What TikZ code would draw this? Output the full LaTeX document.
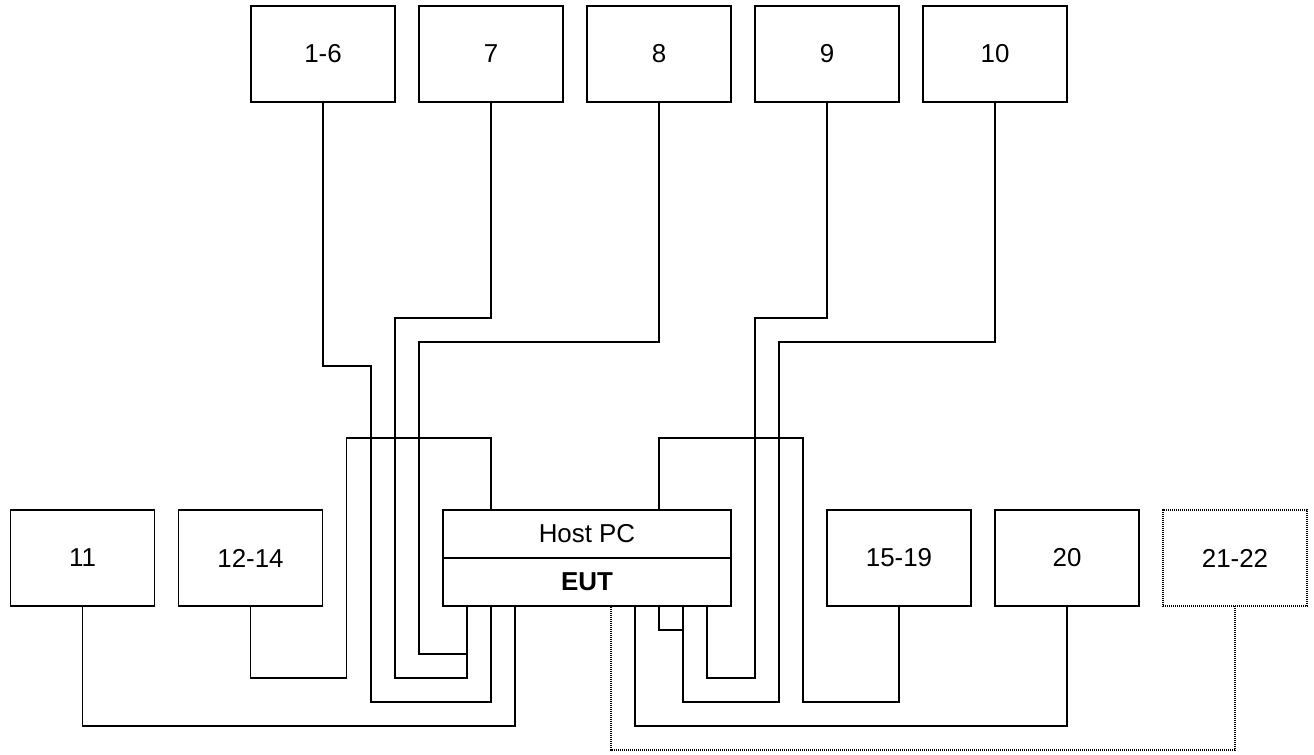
\documentclass[tikz,border=0pt]{standalone}
\usepackage{fontspec}
\setmainfont{Liberation Sans}
\usetikzlibrary{positioning}

\begin{document}
\begin{tikzpicture}[x=0.5bp, y=-0.5bp, node distance=12bp,
  every node/.style={font=\fontsize{13}{15}\selectfont},
  unit/.style={draw,line width=0.6pt,inner sep=0pt,outer sep=0pt,
               minimum width=72bp,minimum height=48bp},
  optunit/.style={unit,dash pattern=on 0.5bp off 0.5bp},
  half/.style={draw,line width=0.6pt,inner sep=0pt,outer sep=0pt,
               minimum width=144bp,minimum height=24bp},
  cable/.style={line width=0.6pt},
  optcable/.style={cable,dash pattern=on 0.5bp off 0.5bp}]

\useasboundingbox (0,0) rectangle (1314,754);

% peripherals above
\node[unit] (d16) at (323,54) {1-6};
\node[unit,right=of d16] (d7) {7};
\node[unit,right=of d7] (d8) {8};
\node[unit,right=of d8] (d9) {9};
\node[unit,right=of d9] (d10) {10};

% host and EUT
\node[half] (host) at (587,534) {Host PC};
\node[half,below=0pt of host] (eut) {\textbf{EUT}};

% peripherals below
\node[unit] (d11) at (82.5,558) {11};
\node[unit,right=of d11] (d1214) {12-14};
\node[unit,right=48bp of eut.south east,anchor=south west] (d1519) {15-19};
\node[unit,right=of d1519] (d20) {20};
\node[optunit,right=of d20] (d2122) {21-22};

% ports
\foreach \i in {1,...,11}
  \coordinate (e\i) at ([xshift=\i*12bp]eut.south west);
\foreach \i in {2,9}
  \coordinate (h\i) at ([xshift=\i*12bp]host.north west);

\draw[cable] (d16.south) -- ++(0,264) -- ++(48,0) -- ++(0,336) -| (e2);
\draw[cable] (d7.south) -- ++(0,216) -- ++(-96,0) -- ++(0,360) -| (e1);
\draw[cable] (d8.south) -- ++(0,240) -- ++(-240,0) -- ++(0,312) -| (e1);
\draw[cable] (d9.south) -- ++(0,216) -- ++(-72,0) -- ++(0,360) -| (e11);
\draw[cable] (d10.south) -- ++(0,240) -- ++(-216,0) -- ++(0,360) -| (e10);
\draw[cable] (d11.south) -- ++(0,120) -| (e3);
\draw[cable] (d1214.south) -- ++(0,72) -- ++(96,0) -- ++(0,-240) -| (h2);
\draw[cable] (d1519.south) -- ++(0,96) -- ++(-96,0) -- ++(0,-264) -| (h9);
\draw[cable] (d20.south) -- ++(0,120) -| (e8);
\draw[optcable] (d2122.south) -- ++(0,144) -| (e7);
\draw[cable] (e9) -- ++(0,24) -| (e10);
\end{tikzpicture}
\end{document}
